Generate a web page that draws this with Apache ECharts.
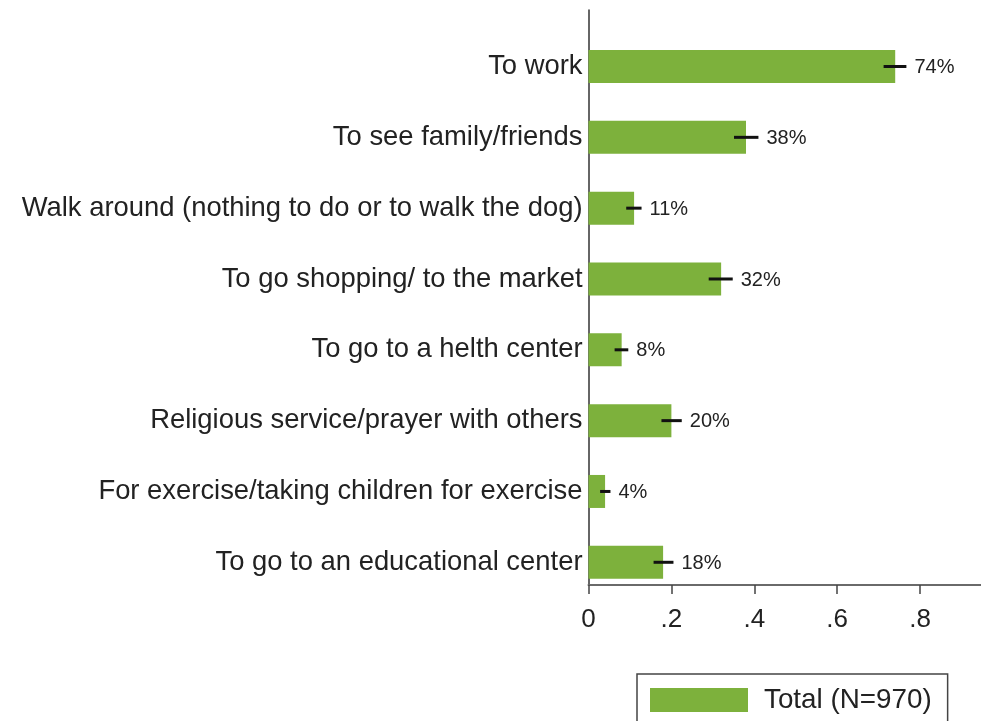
<!DOCTYPE html>
<html>
<head>
<meta charset="utf-8">
<script src="https://cdn.jsdelivr.net/npm/echarts@6/dist/echarts.min.js"></script>
<style>
  html, body { margin: 0; padding: 0; background: #ffffff; }
  #chart { width: 981px; height: 721px; }
</style>
</head>
<body>
<div id="chart"></div>
<script>
// Reasons for leaving home: share of respondents with 95% confidence intervals
const categories = [
  'To work',
  'To see family/friends',
  'Walk around (nothing to do or to walk the dog)',
  'To go shopping/ to the market',
  'To go to a helth center',
  'Religious service/prayer with others',
  'For exercise/taking children for exercise',
  'To go to an educational center'
];
const shares = [0.74, 0.38, 0.11, 0.32, 0.08, 0.20, 0.04, 0.18];
const ciLow  = [0.712, 0.351, 0.091, 0.290, 0.063, 0.176, 0.028, 0.157];
const ciHigh = [0.767, 0.410, 0.128, 0.348, 0.096, 0.225, 0.053, 0.205];
const xTicks = [0, 0.2, 0.4, 0.6, 0.8];
const tickLabels = ['0', '.2', '.4', '.6', '.8'];
const seriesName = 'Total (N=970)';

const FONT = 'Arial, "Liberation Sans", Helvetica, sans-serif';
const GREEN = '#7db13c';
const X_MAX = 0.947;

function tickText(v) {
  for (let i = 0; i < xTicks.length; i++) {
    if (Math.abs(v - xTicks[i]) < 1e-6) return tickLabels[i];
  }
  return '';
}

const chart = echarts.init(document.getElementById('chart'), null, { renderer: 'canvas' });

chart.setOption({
  animation: false,
  backgroundColor: '#ffffff',
  textStyle: { fontFamily: FONT },
  grid: [
    // plotting band for the categories
    { left: 588.5, right: 0, top: 31.1, bottom: 123.3, containLabel: false },
    // frame carrying the visible axes
    { left: 588.5, right: 0, top: 10, bottom: 136, containLabel: false }
  ],
  xAxis: [
    {
      gridIndex: 0, type: 'value', min: 0, max: X_MAX,
      show: false, splitLine: { show: false }
    },
    {
      gridIndex: 1, type: 'value', min: 0, max: X_MAX,
      axisLine: { show: true, lineStyle: { color: '#6a6a6a', width: 2 } },
      axisTick: {
        show: true, length: 9, customValues: xTicks,
        lineStyle: { color: '#444', width: 1.5 }
      },
      axisLabel: {
        margin: 22, fontSize: 26, color: '#222', fontFamily: FONT,
        customValues: xTicks,
        formatter: tickText
      },
      splitLine: { show: false }
    }
  ],
  yAxis: [
    {
      gridIndex: 0, type: 'category', data: categories, inverse: true,
      axisLine: { show: false }, axisTick: { show: false },
      axisLabel: {
        margin: 6, fontSize: 27.4, color: '#222', fontFamily: FONT,
        padding: [3, 0, 0, 0]
      },
      splitLine: { show: false }
    },
    {
      gridIndex: 1, type: 'value', min: 0, max: 1,
      axisLine: { show: true, lineStyle: { color: '#333', width: 1.5 } },
      axisTick: { show: false }, axisLabel: { show: false },
      splitLine: { show: false }
    }
  ],
  legend: {
    data: [seriesName],
    left: 637, top: 674,
    orient: 'horizontal',
    padding: [12, 16, 40, 13],
    borderColor: '#444', borderWidth: 1.5, borderRadius: 0,
    icon: 'rect', itemWidth: 98, itemHeight: 24,
    selectedMode: false,
    textStyle: { fontSize: 27.8, color: '#222', fontFamily: FONT, padding: [0, 0, 0, 11] }
  },
  series: [
    {
      name: seriesName,
      type: 'bar',
      xAxisIndex: 0, yAxisIndex: 0,
      data: shares,
      barWidth: 33,
      z: 2,
      itemStyle: { color: GREEN },
      silent: true
    },
    {
      name: 'ci',
      type: 'custom',
      xAxisIndex: 0, yAxisIndex: 0,
      z: 10,
      silent: true,
      encode: { x: [0, 1], y: 2 },
      data: shares.map((s, i) => [ciLow[i], ciHigh[i], i, s]),
      renderItem: function (params, api) {
        const lo = api.coord([api.value(0), api.value(2)]);
        const hi = api.coord([api.value(1), api.value(2)]);
        return {
          type: 'group',
          children: [
            {
              type: 'line',
              shape: { x1: lo[0], y1: lo[1], x2: hi[0], y2: hi[1] },
              style: { stroke: '#111', lineWidth: 3 }
            },
            {
              type: 'text',
              x: hi[0] + 8, y: hi[1] + 1,
              style: {
                text: Math.round(api.value(3) * 100) + '%',
                font: '20px ' + FONT,
                fill: '#222',
                textAlign: 'left',
                verticalAlign: 'middle'
              }
            }
          ]
        };
      }
    }
  ]
});
</script>
</body>
</html>
